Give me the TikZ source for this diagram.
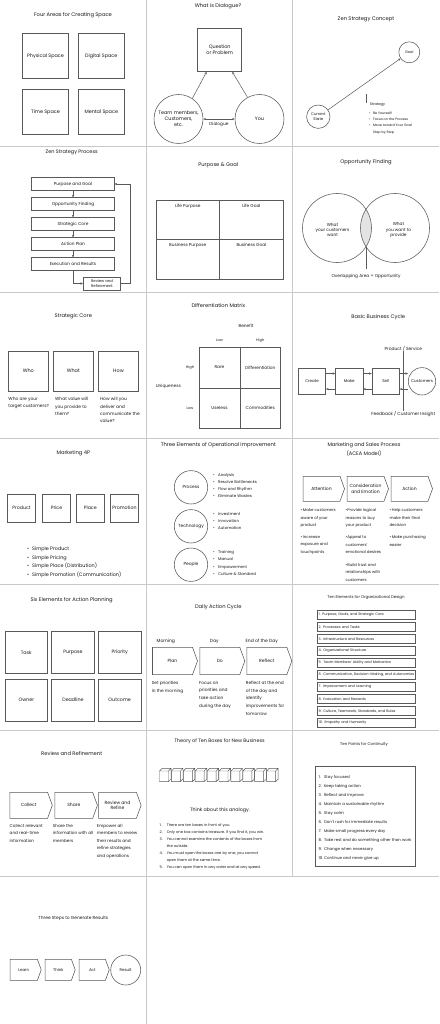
\documentclass[tikz,border=0pt]{standalone}
\usepackage{fontspec}
\setmainfont{Poppins}
\usetikzlibrary{shapes.symbols,arrows.meta}
\definecolor{ln}{HTML}{595959}
\definecolor{gridc}{HTML}{C9C9C9}
\definecolor{lens}{HTML}{E3E3E3}
\newcommand{\fsz}[2]{\fontsize{#1}{#2}\selectfont}

\begin{document}
\begin{tikzpicture}[x=1pt, y=-1pt, >={Stealth[length=2.6pt,width=2.2pt]},
  every node/.style={text=black!90},
  ttl/.style={font=\fsz{5.2}{6.2}},
  sq/.style={draw=ln, line width=0.55pt, align=center, inner sep=0.5pt, font=\fsz{4.9}{6}},
  crc/.style={circle, draw=ln, line width=0.55pt, align=center, inner sep=0pt, font=\fsz{4.9}{6}},
  chev/.style={signal, signal to=east, signal from=nowhere, signal pointer angle=140,
    draw=ln, line width=0.55pt, inner sep=0pt, align=center, font=\fsz{4.5}{5.6}},
  txt/.style={anchor=north west, align=left, inner sep=0pt, font=\fsz{4.3}{7.5}},
  lbl/.style={inner sep=0pt, align=center, font=\fsz{4.3}{5.2}},
  con/.style={draw=ln, line width=0.5pt},
  grid/.style={draw=gridc, line width=0.8pt}]

% page and panel grid
\fill[white] (0,0) rectangle (439,1024);
\useasboundingbox (0,0) rectangle (439,1024);
\foreach \y in {146,292,438,584,730,876} \draw[grid] (0,\y) -- (439,\y);
\draw[grid] (146.7,0) -- (146.7,1024);
\draw[grid] (292.7,0) -- (292.7,876);

% --- four areas
\node[ttl] (ta) at (73,15) {Four Areas for Creating Space};
\node[sq, minimum width=46pt, minimum height=45pt] (phys) at (45.5,55.8) {Physical Space};
\node[sq, minimum width=46pt, minimum height=45pt] (digi) at (101.3,55.8) {Digital Space};
\node[sq, minimum width=46pt, minimum height=45pt] (time) at (45.5,112.2) {Time Space};
\node[sq, minimum width=46pt, minimum height=45pt] (ment) at (101.3,112.2) {Mental Space};

% --- dialogue
\node[ttl] (tb) at (218,6) {What is Dialogue?};
\node[sq, minimum width=44pt, minimum height=43pt] (qp) at (219.7,50) {Question\\or Problem};
\node[crc, minimum size=49pt] (team) at (178.5,119) {Team members,\\Customers,\\etc.};
\node[crc, minimum size=49pt] (you) at (259.5,119) {You};
\draw[con,->] (team.56) -- (qp.-121);
\draw[con,->] (you.119) -- (qp.-60);
\draw[con,<->] (team) -- node[lbl, below=3pt] {Dialogue} (you);

% --- zen strategy concept
\node[ttl] (tc) at (366,19.3) {Zen Strategy Concept};
\node[crc, minimum size=21pt, font=\fsz{3.6}{4.4}] (goal) at (409.3,52.3) {Goal};
\node[crc, minimum size=23.4pt, font=\fsz{3.8}{4.6}] (cur) at (318.3,116.7) {Current\\State};
\draw[con,->] (cur) -- (goal);
\node[lbl, font=\fsz{3.6}{4.4}] (stg) at (377.5,105) {Strategy};
\coordinate (tick) at (366.5,94.5);
\draw[con, line width=0.4pt] (tick) -- (tick |- stg.north);
\node[anchor=north west, inner sep=0pt, font=\fsz{3.35}{6.2}] (stl) at (369,109.9) {%
  \begin{tabular}{@{}l@{\hspace{2.5pt}}l@{}}
  \textbullet & Be Yourself!\\ \textbullet & Focus on the Process\\
  \textbullet & Move toward Your Goal\\ & Step by Step
  \end{tabular}};

% --- zen strategy process
\node[ttl, font=\fsz{5}{6}] (td) at (71.7,152) {Zen Strategy Process};
\node[sq, minimum width=82.6pt, minimum height=12.6pt, font=\fsz{4.3}{5.3}] (p1) at (73,184) {Purpose and Goal};
\node[sq, minimum width=82.6pt, minimum height=12.6pt, font=\fsz{4.3}{5.3}] (p2) at (73,204) {Opportunity Finding};
\node[sq, minimum width=82.6pt, minimum height=12.6pt, font=\fsz{4.3}{5.3}] (p3) at (73,224) {Strategic Core};
\node[sq, minimum width=82.6pt, minimum height=12.6pt, font=\fsz{4.3}{5.3}] (p4) at (73,244) {Action Plan};
\node[sq, minimum width=82.6pt, minimum height=12.6pt, font=\fsz{4.3}{5.3}] (p5) at (73,264) {Execution and Results};
\foreach \a/\b in {p1/p2,p2/p3,p3/p4,p4/p5} \draw[con,->] (\a) -- (\b);
\node[sq, minimum width=37.4pt, minimum height=13pt, font=\fsz{3.8}{4.6}] (rv) at (102,283.5) {Review and\\Refinement};
\draw[con,->] (p5.south) |- (rv.west);
\coordinate (back) at (130,283.5);
\draw[con,->] (rv.east) -- (back) |- (p1.east);

% --- purpose and goal
\node[ttl] (te) at (218.3,165.3) {Purpose \& Goal};
\node[draw=ln, line width=0.55pt, minimum width=63.6pt, minimum height=39.7pt,
  label={[lbl, anchor=north, yshift=-4pt]north:Life Purpose}] (lp) at (187.8,219.85) {};
\node[draw=ln, line width=0.55pt, minimum width=63.6pt, minimum height=39.7pt,
  label={[lbl, anchor=north, yshift=-4pt]north:Life Goal}] (lg) at (251.4,219.85) {};
\node[draw=ln, line width=0.55pt, minimum width=63.6pt, minimum height=39.7pt,
  label={[lbl, anchor=north, yshift=-4pt]north:Business Purpose}] (bp) at (187.8,259.55) {};
\node[draw=ln, line width=0.55pt, minimum width=63.6pt, minimum height=39.7pt,
  label={[lbl, anchor=north, yshift=-4pt]north:Business Goal}] (bg) at (251.4,259.55) {};

% --- opportunity finding
\node[ttl] (tf) at (366,162.7) {Opportunity Finding};
\begin{scope}
  \clip (337,228) circle (34.5);
  \fill[lens] (395,228) circle (34.5);
\end{scope}
\node[crc, minimum size=69pt] (cw) at (337,228) {};
\node[crc, minimum size=69pt] (yw) at (395,228) {};
\node[lbl] (cwt) at (332.5,230) {What\\your customers\\want};
\node[lbl] (ywt) at (398.5,230) {What\\you want to\\provide};
\coordinate (lensb) at (366,246.7);
\node[lbl] (ovl) at (366,276) {Overlapping Area = Opportunity};
\draw[con] (lensb) -- ([yshift=4.5pt]ovl.north);

% --- strategic core
\node[ttl] (tg) at (73.3,316) {Strategic Core};
\node[sq, minimum size=40pt] (who) at (28.3,371) {Who};
\node[sq, minimum size=40pt] (what) at (73.3,371) {What};
\node[sq, minimum size=40pt] (how) at (118.5,371) {How};
\node[txt, font=\fsz{4.4}{7.3}] (whod) at (8.3,397.2) {Who are your\\target customers?};
\node[txt, font=\fsz{4.4}{7.3}] (whatd) at (55,397.2) {What value will\\you provide to\\them?};
\node[txt, font=\fsz{4.4}{7.3}] (howd) at (100,397.2) {How will you\\deliver and\\communicate the\\value?};

% --- differentiation matrix
\node[ttl] (th) at (218.3,305.3) {Differentiation Matrix};
\node[lbl] (ben) at (246,326.3) {Benefit};
\node[lbl, font=\fsz{3.6}{4.4}] (blo) at (219.5,340.3) {Low};
\node[lbl, font=\fsz{3.6}{4.4}] (bhi) at (260.3,340.3) {High};
\node[sq, minimum size=40.8pt, font=\fsz{4.3}{5.2}] (rare) at (219.5,367.4) {Rare};
\node[sq, minimum size=40.8pt, font=\fsz{4.3}{5.2}] (diff) at (260.3,367.4) {Differentiation};
\node[sq, minimum size=40.8pt, font=\fsz{4.3}{5.2}] (usel) at (219.5,408.2) {Useless};
\node[sq, minimum size=40.8pt, font=\fsz{4.3}{5.2}] (comm) at (260.3,408.2) {Commodities};
\node[lbl, font=\fsz{3.6}{4.4}] (uhi) at (190,367.4) {High};
\node[lbl, font=\fsz{3.6}{4.4}] (ulo) at (190,408.2) {Low};
\node[lbl] (uniq) at (168.3,386) {Uniqueness};

% --- basic business cycle
\node[ttl] (ti) at (378.3,317) {Basic Business Cycle};
\node[sq, minimum width=27.4pt, minimum height=26.7pt, font=\fsz{4}{4.8}] (cre) at (312,381.3) {Create};
\node[sq, minimum width=27.4pt, minimum height=26.7pt, font=\fsz{4}{4.8}] (mak) at (349.2,381.3) {Make};
\node[sq, minimum width=27.4pt, minimum height=26.7pt, font=\fsz{4}{4.8}] (sel) at (385.7,381.3) {Sell};
\node[crc, minimum size=27.4pt, font=\fsz{4}{4.8}] (cus) at (422,381.3) {Customers};
\draw[con,->] (cre.29) -- (mak.151);
\draw[con,->] (mak.209) -- (cre.331);
\draw[con,->] (mak.29) -- (sel.151);
\draw[con,->] (sel.209) -- (mak.331);
\draw[con,->] (sel.29) -- (sel.29 -| cus.west);
\draw[con,->] (sel.-29 -| cus.west) -- (sel.-29);
\node[lbl, font=\fsz{4.4}{5.2}] (ps) at (403.3,348.7) {Product / Service};
\node[lbl, font=\fsz{4.4}{5.2}] (fb) at (403.3,413.7) {Feedback / Customer Insight};
\draw[con] (ps.south) -- (fb.north);

% --- marketing 4P
\node[ttl] (tj) at (73.3,453) {Marketing 4P};
\node[sq, minimum size=28.4pt, font=\fsz{4.7}{5.6}] (prod) at (21.5,508.2) {Product};
\node[sq, minimum size=28.4pt, font=\fsz{4.7}{5.6}] (pric) at (56.5,508.2) {Price};
\node[sq, minimum size=28.4pt, font=\fsz{4.7}{5.6}] (plac) at (90.3,508.2) {Place};
\node[sq, minimum size=28.4pt, font=\fsz{4.7}{5.6}] (prom) at (124.5,508.2) {Promotion};
\node[anchor=north west, inner sep=0pt, font=\fsz{4.9}{8.5}] (sim) at (27,544.4) {%
  \begin{tabular}{@{}l@{\hspace{3pt}}l@{}}
  \textbullet & Simple Product\\ \textbullet & Simple Pricing\\
  \textbullet & Simple Place (Distribution)\\ \textbullet & Simple Promotion (Communication)
  \end{tabular}};

% --- three elements of operational improvement
\node[ttl] (tk) at (218.3,444.7) {Three Elements of Operational Improvement};
\node[crc, minimum size=33.4pt, font=\fsz{4.4}{5.2}] (proc) at (191,487.3) {Process};
\node[crc, minimum size=33.4pt, font=\fsz{4.4}{5.2}] (tech) at (191,526.3) {Technology};
\node[crc, minimum size=33.4pt, font=\fsz{4.4}{5.2}] (peop) at (191,564.7) {People};
\node[anchor=north west, inner sep=0pt, font=\fsz{3.95}{7.3}] (prl) at (212.8,470.7) {%
  \begin{tabular}{@{}l@{\hspace{3.5pt}}l@{}}
  \textbullet & Analysis\\ \textbullet & Resolve Bottlenecks\\
  \textbullet & Flow and Rhythm\\ \textbullet & Eliminate Wastes
  \end{tabular}};
\node[anchor=north west, inner sep=0pt, font=\fsz{3.95}{7.3}] (tel) at (212.8,509.7) {%
  \begin{tabular}{@{}l@{\hspace{3.5pt}}l@{}}
  \textbullet & Investment\\ \textbullet & Innovation\\ \textbullet & Automation
  \end{tabular}};
\node[anchor=north west, inner sep=0pt, font=\fsz{3.95}{7.3}] (pel) at (212.8,548.3) {%
  \begin{tabular}{@{}l@{\hspace{3.5pt}}l@{}}
  \textbullet & Training\\ \textbullet & Manual\\
  \textbullet & Empowerment\\ \textbullet & Culture \& Standard
  \end{tabular}};

% --- marketing and sales process
\node[ttl, align=center, font=\fsz{5.1}{9}] (tl) at (364,449.2) {Marketing and Sales Process\\(ACEA Model)};
\node[chev, minimum width=41.5pt, minimum height=25pt] (att) at (321.5,488.8) {Attention};
\node[chev, minimum width=41.5pt, minimum height=25pt] (cons) at (365.5,488.8) {Consideration\\and Emotion};
\node[chev, minimum width=41.5pt, minimum height=25pt] (actn) at (409.5,488.8) {Action};
\node[txt, font=\fsz{3.95}{7.5}] (a1) at (300.5,508.4) {\textbullet\,Make customers\\aware of your\\product};
\node[txt, font=\fsz{3.95}{7.5}] (a2) at (300.5,535.4) {\textbullet\,Increase\\exposure and\\touchpoints};
\node[txt, font=\fsz{3.95}{7.5}] (c1) at (345.5,508.4) {\textbullet Provide logical\\reasons to buy\\your product};
\node[txt, font=\fsz{3.95}{7.5}] (c2) at (345.5,535.4) {\textbullet Appeal to\\customers'\\emotional desires};
\node[txt, font=\fsz{3.95}{7.5}] (c3) at (345.5,562.8) {\textbullet Build trust and\\relationships with\\customers};
\node[txt, font=\fsz{3.95}{7.5}] (n1) at (389.3,508.4) {\textbullet\,Help customers\\make their final\\decision};
\node[txt, font=\fsz{3.95}{7.5}] (n2) at (389.3,535.4) {\textbullet\,Make purchasing\\easier};

% --- six elements for action planning
\node[ttl] (tm) at (71.7,600) {Six Elements for Action Planning};
\node[sq, minimum width=42.7pt, minimum height=42pt, font=\fsz{4.8}{5.8}] (task) at (26.3,652.3) {Task};
\node[sq, minimum width=42.7pt, minimum height=42pt, font=\fsz{4.8}{5.8}] (purp) at (73,652.3) {Purpose};
\node[sq, minimum width=42.7pt, minimum height=42pt, font=\fsz{4.8}{5.8}] (prio) at (119.7,652.3) {Priority};
\node[sq, minimum width=42.7pt, minimum height=42pt, font=\fsz{4.8}{5.8}] (own) at (26.3,699.8) {Owner};
\node[sq, minimum width=42.7pt, minimum height=42pt, font=\fsz{4.8}{5.8}] (dead) at (73,699.8) {Deadline};
\node[sq, minimum width=42.7pt, minimum height=42pt, font=\fsz{4.8}{5.8}] (outc) at (119.7,699.8) {Outcome};

% --- daily action cycle
\node[ttl] (tn) at (218.3,607.3) {Daily Action Cycle};
\node[lbl, font=\fsz{4.5}{5.4}] (morn) at (165.8,641.3) {Morning};
\node[lbl, font=\fsz{4.5}{5.4}] (day) at (214.3,641.3) {Day};
\node[lbl, font=\fsz{4.5}{5.4}] (eod) at (261.7,641.3) {End of the Day};
\node[chev, minimum width=45pt, minimum height=27.4pt] (plan) at (172.5,661) {Plan};
\node[chev, minimum width=45pt, minimum height=27.4pt] (do) at (219.8,661) {Do};
\node[chev, minimum width=45pt, minimum height=27.4pt] (refl) at (266.8,661) {Reflect};
\node[txt, font=\fsz{4.3}{7.7}] (pland) at (151.7,681) {Set priorities\\in the morning};
\node[txt, font=\fsz{4.3}{7.7}] (dod) at (199,681) {Focus on\\priorities and\\take action\\during the day};
\node[txt, font=\fsz{4.3}{7.7}] (refd) at (245.7,681) {Reflect at the end\\of the day and\\identify\\improvements for\\tomorrow};

% --- ten elements for organizational design
\node[ttl, font=\fsz{3.95}{4.8}] (to) at (366,598) {Ten Elements for Organizational Design};
\foreach \i/\t in {1/{Purpose, Goals, and Strategic Core}, 2/{Processes and Tasks},
    3/{Infrastructure and Resources}, 4/{Organizational Structure},
    5/{Team Members' Ability and Motivation}, 6/{Communication, Decision-Making, and Autonomies},
    7/{Improvement and Learning}, 8/{Evaluation and Rewards},
    9/{Culture, Teamwork, Standards, and Rules}, 10/{Empathy and Humanity}}
  \node[draw=ln, line width=0.5pt, minimum height=8.7pt, text width=95pt, inner xsep=1.3pt,
    inner ysep=0pt, align=left, font=\fsz{3.5}{4.2}] (e\i) at (366.2,{603+12*\i}) {\mbox{\i. \t}};

% --- review and refinement
\node[ttl] (tp) at (71.7,754) {Review and Refinement};
\node[chev, minimum width=42.5pt, minimum height=26pt] (coll) at (28.7,805.3) {Collect};
\node[chev, minimum width=42.5pt, minimum height=26pt] (shar) at (73.8,805.3) {Share};
\node[chev, minimum width=42.5pt, minimum height=26pt] (rref) at (117.5,805.3) {Review and\\Refine};
\node[txt, font=\fsz{4.2}{7.5}] (colld) at (9.5,823.7) {Collect relevant\\and real-time\\information};
\node[txt, font=\fsz{4.2}{7.5}] (shard) at (52.7,823.7) {Share the\\information with all\\members};
\node[txt, font=\fsz{4.2}{7.5}] (rrefd) at (96.7,823.7) {Empower all\\members to review\\their results and\\refine strategies\\and operations};

% --- theory of ten boxes
\node[ttl, font=\fsz{4.9}{5.8}] (tq) at (219.5,741) {Theory of Ten Boxes for New Business};
\foreach \i in {0,...,9}{
  \pgfmathsetmacro{\cx}{159.5+11.9*\i}
  \draw[con, line width=0.45pt] (\cx,771) rectangle ++(9,10.7)
    (\cx,771) -- ++(2.6,-2.7) -- ++(9,0) -- ++(0,10.7) -- ++(-2.6,2.7)
    ({\cx+9},771) -- ++(2.6,-2.7);
}
\node[lbl, font=\fsz{4.8}{5.8}] (think) at (220,810) {Think about this analogy.};
\node[anchor=north west, inner sep=0pt, font=\fsz{3.7}{7.1}] (thl) at (159.5,821) {%
  \begin{tabular}{@{}l@{\hspace{4pt}}l@{}}
  1. & There are ten boxes in front of you.\\
  2. & Only one box contains treasure. If you find it, you win.\\
  3. & You cannot examine the contents of the boxes from\\
     & the outside.\\
  4. & You must open the boxes one by one; you cannot\\
     & open them at the same time.\\
  5. & You can open them in any order and at any speed.
  \end{tabular}};

% --- ten points for continuity
\node[ttl, font=\fsz{3.95}{4.8}] (tr) at (364,744) {Ten Points for Continuity};
\node[draw=ln, line width=0.5pt, minimum width=100.7pt, minimum height=99.3pt] (tpb) at (365.3,816.3) {};
\node[anchor=north west, inner sep=0pt, font=\fsz{3.95}{9}] (tpl) at (318.3,771.5) {%
  \begin{tabular}{@{}l@{\hspace{1pt}}l@{}}
  1. & Stay focused\\ 2. & Keep taking action\\ 3. & Reflect and improve\\
  4. & Maintain a sustainable rhythm\\ 5. & Stay calm\\
  6. & Don't rush for immediate results\\ 7. & Make small progress every day\\
  8. & Take rest and do something other than work\\ 9. & Change when necessary\\
  10. & Continue and never give up
  \end{tabular}};

% --- three steps to generate results
\node[ttl, font=\fsz{4.4}{5.3}] (ts) at (73.3,918.7) {Three Steps to Generate Results};
\node[chev, minimum width=31pt, minimum height=21pt, font=\fsz{4}{4.8}] (lrn) at (23.8,969.8) {Learn};
\node[chev, minimum width=30pt, minimum height=21pt, font=\fsz{4}{4.8}] (thk) at (58.3,969.8) {Think};
\node[chev, minimum width=30pt, minimum height=21pt, font=\fsz{4}{4.8}] (act) at (92.3,969.8) {Act};
\node[crc, minimum size=30pt, font=\fsz{4}{4.8}] (res) at (125.7,970) {Result};
\end{tikzpicture}
\end{document}
